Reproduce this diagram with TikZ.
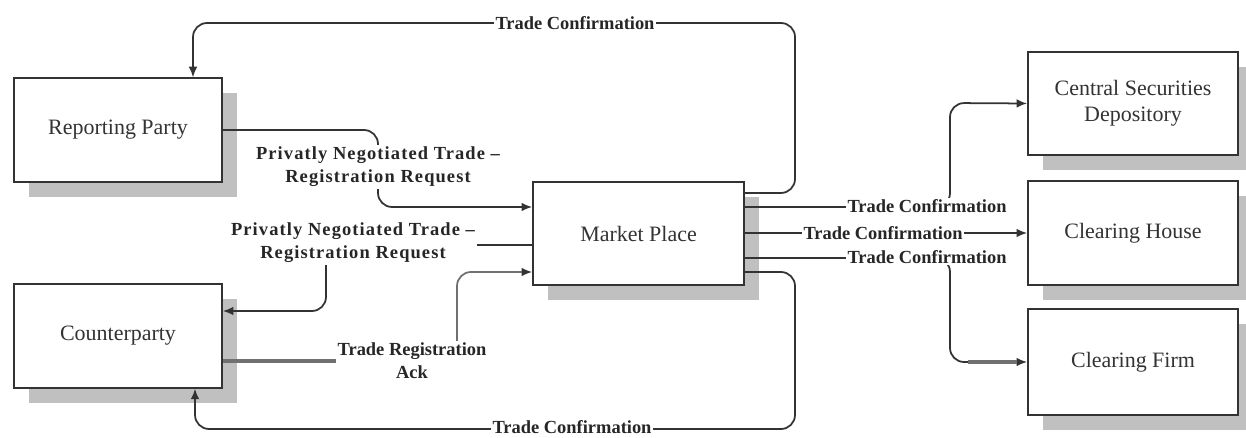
\documentclass[tikz,border=0pt]{standalone}
\usepackage{fontspec}
\setmainfont{LiberationSerif}[Extension=.ttf, UprightFont=*-Regular, BoldFont=*-Bold,
  ItalicFont=*-Italic, BoldItalicFont=*-BoldItalic]
\usetikzlibrary{arrows.meta,shadows,calc}
\definecolor{ink}{HTML}{333333}
\definecolor{shade}{HTML}{C0C0C0}
\definecolor{ackgray}{HTML}{707070}
\tikzset{
  box/.style={draw=ink, line width=1.1pt, fill=white, minimum width=4.2cm,
    minimum height=2.07cm, font=\fontsize{12.5}{15}\selectfont, align=center,
    text=black!80, drop shadow={shadow xshift=0.3cm, shadow yshift=-0.3cm, fill=shade, opacity=1}},
  flow/.style={draw=ink, line width=1pt, rounded corners=8pt},
  tip/.style={-{Latex[length=6pt,width=5pt,color=ink]}},
  lbl/.style={fill=white, inner sep=1pt, font=\bfseries\fontsize{10.5}{13}\selectfont,
    align=center, text=black!85},
  widelbl/.style={lbl, font=\bfseries\fontsize{10.5}{13}\selectfont\addfontfeature{LetterSpace=6}},
}
\begin{document}
\begin{tikzpicture}[x=0.02cm, y=-0.02cm]
\useasboundingbox (0,0) rectangle (1246,438);

% parties and systems
\node[box, minimum width=4.16cm] (rp) at (118,130) {Reporting Party};
\node[box, minimum width=4.16cm] (cp) at (118,336) {Counterparty};
\node[box, minimum width=4.22cm] (mp) at (638.5,233.5) {Market Place};
\node[box] (csd) at (1133,103.5) {Central Securities\\Depository};
\node[box] (ch) at (1133,233) {Clearing House};
\node[box, minimum height=2.12cm] (cf) at (1133,362) {Clearing Firm};

% confirmation back to the reporting party (over the top)
\draw[flow,tip] (mp.east |- 0,193) -- (795,193) -- (795,23) -- (193,23) -- (rp.north -| 193,0);
% registration request from the reporting party
\draw[flow,tip] (rp.east) -- (378,130) -- (378,207) -- (mp.west |- 0,207);
% registration request forwarded to the counterparty
\draw[flow,tip] (mp.west |- 0,245) -- (326,245) -- (326,311) -- (cp.east |- 0,311);
% confirmation to the counterparty (underneath)
\draw[flow,tip] (mp.east |- 0,272) -- (795,272) -- (795,429) -- (195,429) -- (cp.south -| 195,0);
% confirmations to the post-trade parties
\draw[flow,tip] (mp.east |- 0,207) -- (950,207) -- (950,103) -- (csd.west);
\draw[flow,tip] (mp.east |- 0,233) -- (ch.west);
\draw[flow,tip] (mp.east |- 0,258) -- (950,258) -- (950,362) -- (cf.west);
\draw[draw=ackgray, line width=2.5pt] (968,362) -- ([xshift=-6pt]cf.west);

% acknowledgement from the counterparty
\node[lbl] (ack) at (412,361) {Trade Registration\\Ack};
\draw[draw=ackgray, line width=2.2pt] (cp.east |- ack.west) -- (ack.west);
\draw[flow, draw=ackgray, tip] (ack.north -| 457,0) -- (457,272) -- (mp.west |- 0,272);

% labels
\node[lbl] (tc1) at (575,23) {Trade Confirmation};
\node[widelbl] (req1) at (378,167) {Privatly Negotiated Trade –\\Registration Request};
\node[widelbl] (req2) at (353,243) {Privatly Negotiated Trade –\\Registration Request};
\node[lbl] (tc2) at (572,427) {Trade Confirmation};
\node[lbl] (tc3) at (927,206) {Trade Confirmation};
\node[lbl] (tc4) at (883,233) {Trade Confirmation};
\node[lbl] (tc5) at (927,257) {Trade Confirmation};
\end{tikzpicture}
\end{document}
